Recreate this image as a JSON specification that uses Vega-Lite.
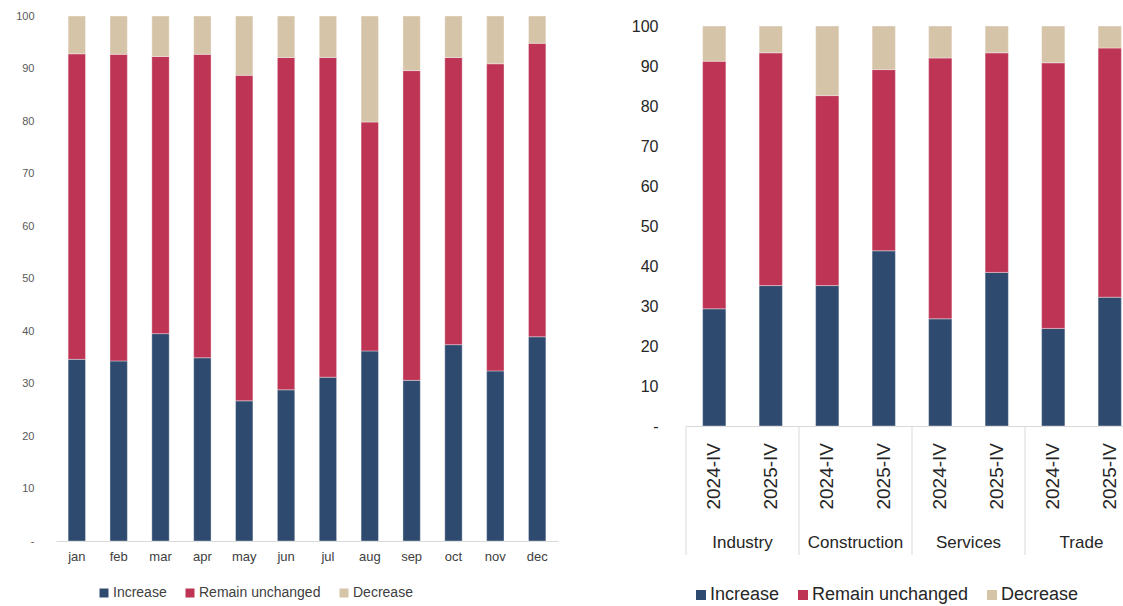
{
  "$schema": "https://vega.github.io/schema/vega-lite/v6.json",
  "background": "white",
  "padding": {"left": 15, "top": 10, "right": 0, "bottom": 0},
  "config": {
    "font": "Liberation Sans",
    "view": {"stroke": null},
    "axis": {"grid": false, "ticks": false, "title": null}
  },
  "datasets": {
    "monthly": [
      {"month": "jan", "category": "Increase", "value": 34.6},
      {"month": "jan", "category": "Remain unchanged", "value": 58.2},
      {"month": "jan", "category": "Decrease", "value": 7.2},
      {"month": "feb", "category": "Increase", "value": 34.3},
      {"month": "feb", "category": "Remain unchanged", "value": 58.4},
      {"month": "feb", "category": "Decrease", "value": 7.3},
      {"month": "mar", "category": "Increase", "value": 39.5},
      {"month": "mar", "category": "Remain unchanged", "value": 52.8},
      {"month": "mar", "category": "Decrease", "value": 7.7},
      {"month": "apr", "category": "Increase", "value": 34.9},
      {"month": "apr", "category": "Remain unchanged", "value": 57.8},
      {"month": "apr", "category": "Decrease", "value": 7.3},
      {"month": "may", "category": "Increase", "value": 26.7},
      {"month": "may", "category": "Remain unchanged", "value": 62.0},
      {"month": "may", "category": "Decrease", "value": 11.3},
      {"month": "jun", "category": "Increase", "value": 28.8},
      {"month": "jun", "category": "Remain unchanged", "value": 63.3},
      {"month": "jun", "category": "Decrease", "value": 7.9},
      {"month": "jul", "category": "Increase", "value": 31.2},
      {"month": "jul", "category": "Remain unchanged", "value": 60.9},
      {"month": "jul", "category": "Decrease", "value": 7.9},
      {"month": "aug", "category": "Increase", "value": 36.2},
      {"month": "aug", "category": "Remain unchanged", "value": 43.6},
      {"month": "aug", "category": "Decrease", "value": 20.2},
      {"month": "sep", "category": "Increase", "value": 30.6},
      {"month": "sep", "category": "Remain unchanged", "value": 59.0},
      {"month": "sep", "category": "Decrease", "value": 10.4},
      {"month": "oct", "category": "Increase", "value": 37.4},
      {"month": "oct", "category": "Remain unchanged", "value": 54.7},
      {"month": "oct", "category": "Decrease", "value": 7.9},
      {"month": "nov", "category": "Increase", "value": 32.4},
      {"month": "nov", "category": "Remain unchanged", "value": 58.5},
      {"month": "nov", "category": "Decrease", "value": 9.1},
      {"month": "dec", "category": "Increase", "value": 38.9},
      {"month": "dec", "category": "Remain unchanged", "value": 55.9},
      {"month": "dec", "category": "Decrease", "value": 5.2}
    ],
    "sectors": [
      {"sector": "Industry", "period": "2024-IV", "category": "Increase", "value": 29.3},
      {"sector": "Industry", "period": "2024-IV", "category": "Remain unchanged", "value": 61.9},
      {"sector": "Industry", "period": "2024-IV", "category": "Decrease", "value": 8.8},
      {"sector": "Industry", "period": "2025-IV", "category": "Increase", "value": 35.1},
      {"sector": "Industry", "period": "2025-IV", "category": "Remain unchanged", "value": 58.2},
      {"sector": "Industry", "period": "2025-IV", "category": "Decrease", "value": 6.7},
      {"sector": "Construction", "period": "2024-IV", "category": "Increase", "value": 35.1},
      {"sector": "Construction", "period": "2024-IV", "category": "Remain unchanged", "value": 47.5},
      {"sector": "Construction", "period": "2024-IV", "category": "Decrease", "value": 17.4},
      {"sector": "Construction", "period": "2025-IV", "category": "Increase", "value": 43.8},
      {"sector": "Construction", "period": "2025-IV", "category": "Remain unchanged", "value": 45.3},
      {"sector": "Construction", "period": "2025-IV", "category": "Decrease", "value": 10.9},
      {"sector": "Services", "period": "2024-IV", "category": "Increase", "value": 26.8},
      {"sector": "Services", "period": "2024-IV", "category": "Remain unchanged", "value": 65.2},
      {"sector": "Services", "period": "2024-IV", "category": "Decrease", "value": 8.0},
      {"sector": "Services", "period": "2025-IV", "category": "Increase", "value": 38.4},
      {"sector": "Services", "period": "2025-IV", "category": "Remain unchanged", "value": 54.9},
      {"sector": "Services", "period": "2025-IV", "category": "Decrease", "value": 6.7},
      {"sector": "Trade", "period": "2024-IV", "category": "Increase", "value": 24.4},
      {"sector": "Trade", "period": "2024-IV", "category": "Remain unchanged", "value": 66.4},
      {"sector": "Trade", "period": "2024-IV", "category": "Decrease", "value": 9.2},
      {"sector": "Trade", "period": "2025-IV", "category": "Increase", "value": 32.2},
      {"sector": "Trade", "period": "2025-IV", "category": "Remain unchanged", "value": 62.3},
      {"sector": "Trade", "period": "2025-IV", "category": "Decrease", "value": 5.5}
    ]
  },
  "hconcat": [
    {
      "width": 502,
      "height": 525,
      "data": {"name": "monthly"},
      "transform": [
        {"calculate": "indexof(['Increase', 'Remain unchanged', 'Decrease'], datum.category)", "as": "stackRank"}
      ],
      "mark": {"type": "bar", "stroke": "white", "strokeWidth": 0.8, "strokeOpacity": 0.45},
      "encoding": {
        "x": {
          "field": "month", "type": "nominal", "sort": null,
          "scale": {"paddingInner": 0.585, "paddingOuter": 0.29},
          "axis": {"labelAngle": 0, "labelFontSize": 13, "labelColor": "#404040", "labelPadding": 9, "domainColor": "#d9d9d9"}
        },
        "y": {
          "field": "value", "type": "quantitative", "stack": "zero",
          "scale": {"domain": [0, 100], "nice": false},
          "axis": {
            "domain": false, "values": [0, 10, 20, 30, 40, 50, 60, 70, 80, 90, 100],
            "labelExpr": "datum.value === 0 ? '-' : datum.label",
            "labelFontSize": 11, "labelColor": "#595959", "labelPadding": 22
          }
        },
        "order": {"field": "stackRank", "type": "quantitative", "sort": "ascending"},
        "color": {
          "field": "category", "type": "nominal",
          "sort": ["Increase", "Remain unchanged", "Decrease"],
          "scale": {"domain": ["Increase", "Remain unchanged", "Decrease"], "range": ["#2e4a6e", "#be3455", "#d6c4a8"]},
          "legend": {
            "title": null, "orient": "none", "legendX": 41, "legendY": 570,
            "direction": "horizontal", "columns": 3, "symbolType": "square", "symbolSize": 81,
            "symbolStrokeWidth": 0, "labelFontSize": 14, "labelColor": "#404040",
            "labelOffset": 2, "columnPadding": 16, "padding": 0
          }
        }
      }
    },
    {
      "width": 452,
      "height": 410,
      "data": {"name": "sectors"},
      "transform": [
        {"calculate": "indexof(['Increase', 'Remain unchanged', 'Decrease'], datum.category)", "as": "stackRank"}
      ],
      "layer": [
        {
          "mark": {"type": "bar", "stroke": "white", "strokeWidth": 0.8, "strokeOpacity": 0.45},
          "encoding": {
            "x": {
              "field": "sector", "type": "nominal",
              "sort": ["Industry", "Construction", "Services", "Trade"],
              "scale": {"paddingInner": 0, "paddingOuter": 0},
              "axis": {"labelAngle": 0, "labelFontSize": 17, "labelColor": "#262626", "labelPadding": 108, "domainColor": "#d9d9d9"}
            },
            "xOffset": {
              "field": "period", "type": "nominal",
              "scale": {"paddingInner": 0.588, "paddingOuter": 0.294}
            },
            "y": {
              "field": "value", "type": "quantitative", "stack": "zero",
              "scale": {"domain": [0, 102.5], "nice": false},
              "axis": {
                "domain": false, "values": [0, 10, 20, 30, 40, 50, 60, 70, 80, 90, 100],
                "labelExpr": "datum.value === 0 ? '-' : datum.label",
                "labelFontSize": 16, "labelColor": "#262626", "labelPadding": 28
              }
            },
            "order": {"field": "stackRank", "type": "quantitative", "sort": "ascending"},
            "color": {
              "field": "category", "type": "nominal",
              "sort": ["Increase", "Remain unchanged", "Decrease"],
              "scale": {"domain": ["Increase", "Remain unchanged", "Decrease"], "range": ["#2e4a6e", "#be3455", "#d6c4a8"]},
              "legend": {
                "title": null, "orient": "none", "legendX": 6, "legendY": 570,
                "direction": "horizontal", "columns": 3, "symbolType": "square", "symbolSize": 100,
                "symbolStrokeWidth": 0, "labelFontSize": 18, "labelColor": "#262626",
                "labelOffset": 0, "columnPadding": 14, "padding": 0
              }
            }
          }
        },
        {
          "transform": [{"filter": "datum.category === 'Increase'"}],
          "mark": {"type": "text", "angle": 270, "align": "right", "baseline": "middle", "fontSize": 19, "color": "#262626", "clip": false},
          "encoding": {
            "x": {"field": "sector", "type": "nominal", "sort": ["Industry", "Construction", "Services", "Trade"]},
            "xOffset": {"field": "period", "type": "nominal"},
            "y": {"datum": -4.25},
            "text": {"field": "period"}
          }
        },
        {
          "transform": [{"filter": "datum.period === '2024-IV' && datum.category === 'Increase'"}],
          "mark": {"type": "rule", "clip": false, "color": "#d9d9d9", "strokeWidth": 1},
          "encoding": {
            "x": {"field": "sector", "type": "nominal", "sort": ["Industry", "Construction", "Services", "Trade"], "bandPosition": 0},
            "y": {"datum": 0},
            "y2": {"datum": -32.25}
          }
        }
      ]
    }
  ],
  "spacing": 73,
  "resolve": {
    "scale": {"x": "independent", "y": "independent", "color": "independent"},
    "legend": {"color": "independent"}
  }
}
